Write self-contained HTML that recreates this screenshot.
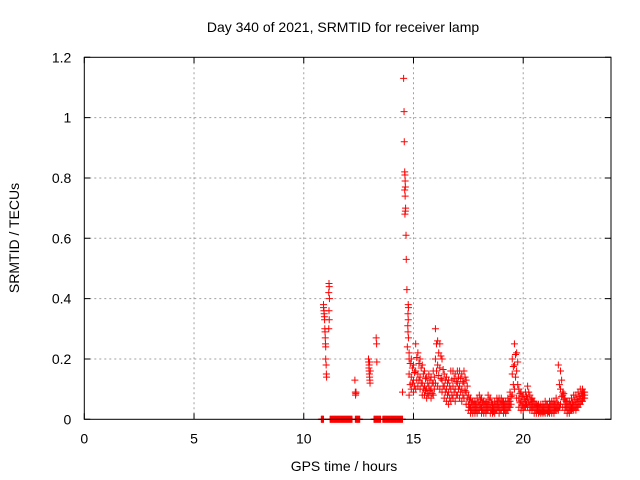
<!DOCTYPE html>
<html><head><meta charset="utf-8"><style>
body{margin:0;background:#fff;}
svg{display:block;font-family:"Liberation Sans",sans-serif;}
</style></head><body>
<svg id="chart" width="640" height="480">
<rect width="640" height="480" fill="#fff"/>
<text x="343" y="32" text-anchor="middle" font-size="14" fill="#000">Day 340 of 2021, SRMTID for receiver lamp</text>
<text x="344" y="471" text-anchor="middle" font-size="14">GPS time / hours</text>
<text transform="translate(19,238) rotate(-90)" text-anchor="middle" font-size="14">SRMTID / TECUs</text>
<g id="grid"></g><g id="ticks"></g><g id="marks"></g>
<rect x="84.3" y="57.3" width="526.7" height="362" fill="none" stroke="#000" stroke-width="1"/>
</svg>
<script>
const xTicks=[0,5,10,15,20];
const yTicks=[0,0.2,0.4,0.6,0.8,1,1.2];
const yTickLabels=["0","0.2","0.4","0.6","0.8","1","1.2"];
// isolated clusters
const clusterTimes=[10.9,10.92,10.93,10.95,10.9,10.94,10.96,10.97,10.98,10.99,11.0,11.0,11.02,11.03,11.04,11.15,11.16,11.14,11.17,11.15,11.16,11.14,
12.33,12.35,12.36,12.37,12.38,12.95,12.96,12.97,12.98,12.99,13.0,13.01,13.02,13.03,12.98,13.0,13.3,13.32,13.33,
14.55,14.57,14.58,14.6,14.61,14.62,14.63,14.6,14.62,14.64,14.63,14.61,14.66,14.67,14.7,14.76,14.77,14.75,14.76,14.74,14.75,14.77,14.72,14.8,14.5];
const clusterValues=[0.37,0.36,0.35,0.33,0.38,0.34,0.30,0.29,0.27,0.25,0.24,0.20,0.18,0.15,0.14,0.45,0.44,0.42,0.40,0.36,0.33,0.30,
0.13,0.09,0.08,0.085,0.09,0.20,0.19,0.17,0.16,0.15,0.14,0.13,0.12,0.16,0.18,0.19,0.27,0.25,0.19,
1.13,1.02,0.92,0.82,0.81,0.79,0.77,0.76,0.74,0.70,0.69,0.68,0.61,0.53,0.43,0.38,0.37,0.35,0.33,0.31,0.29,0.27,0.24,0.20,0.09];
// zero-valued samples
const zeroTimes=[10.8,10.82,10.84,10.86,10.88,10.9,11.2,11.22,11.25,11.28,11.3,11.33,11.35,11.38,11.4,11.43,11.45,11.48,11.5,11.53,11.55,11.58,11.6,11.63,11.65,11.68,11.7,11.73,11.75,11.78,11.8,11.83,11.85,11.88,11.9,11.93,11.95,11.98,12.0,12.03,12.05,12.08,12.1,12.13,12.15,12.18,12.2,12.35,12.38,12.4,12.43,12.45,12.48,12.5,12.53,12.55,
13.2,13.22,13.25,13.28,13.3,13.33,13.35,13.38,13.4,13.43,13.45,13.48,13.5,13.6,13.63,13.65,13.68,13.7,13.73,13.75,13.78,13.8,13.83,13.85,13.88,13.9,13.93,13.95,13.98,14.0,14.03,14.05,14.08,14.1,14.13,14.15,14.18,14.2,14.23,14.25,14.28,14.3,14.33,14.35,14.38,14.4,14.43,14.45,14.48,14.5];
const bandTimes=[14.8,14.9,15.0,15.1,15.2,15.3,15.4,15.5,15.6,15.7,15.8,15.9,16.0,16.1,16.2,16.3,16.4,16.5,16.6,16.7,16.8,16.9,17.0,17.1,17.2,17.3,17.4,17.5,17.6,17.7,17.8,17.9,18.0,18.1,18.2,18.3,18.4,18.5,18.6,18.7,18.8,18.9,19.0,19.1,19.2,19.3,19.4,19.5,19.6,19.7,19.8,19.9,20.0,20.1,20.2,20.3,20.4,20.5,20.6,20.7,20.8,20.9,21.0,21.1,21.2,21.3,21.4,21.5,21.6,21.7,21.8,21.9,22.0,22.1,22.2,22.3,22.4,22.5,22.6,22.7,22.8];
const bandHigh=[.22,.20,.18,.25,.22,.20,.18,.16,.14,.15,.14,.16,.30,.26,.25,.20,.15,.14,.13,.16,.16,.15,.16,.16,.15,.16,.13,.08,.07,.06,.06,.07,.08,.07,.06,.06,.08,.07,.05,.06,.07,.07,.07,.06,.06,.07,.09,.20,.25,.22,.10,.09,.08,.09,.11,.08,.07,.06,.05,.05,.05,.05,.06,.05,.06,.06,.06,.07,.18,.16,.08,.07,.06,.06,.07,.08,.08,.09,.10,.10,.09];
const bandMid=[.15,.14,.13,.16,.15,.14,.12,.11,.10,.11,.10,.12,.20,.18,.17,.13,.11,.10,.09,.10,.11,.10,.12,.11,.10,.12,.09,.05,.04,.04,.04,.04,.05,.04,.04,.04,.05,.04,.03,.04,.05,.04,.05,.04,.04,.05,.06,.15,.18,.16,.07,.06,.05,.06,.07,.05,.05,.04,.04,.03,.03,.03,.04,.03,.04,.04,.04,.04,.05,.10,.09,.05,.04,.04,.04,.05,.05,.06,.07,.08,.08];
const bandLow=[.08,.10,.09,.10,.11,.10,.08,.08,.07,.08,.07,.08,.12,.11,.10,.09,.07,.06,.05,.06,.07,.06,.08,.07,.06,.07,.05,.03,.02,.02,.02,.02,.03,.02,.02,.02,.03,.02,.02,.02,.03,.02,.03,.02,.02,.03,.04,.08,.10,.07,.04,.03,.03,.04,.04,.03,.03,.02,.02,.02,.02,.02,.02,.02,.02,.02,.02,.03,.03,.05,.04,.03,.02,.02,.03,.03,.03,.04,.05,.06,.07];

const X0=84.3,X1=611,Y0=419.3,Y1=57.3,XMAX=24,YMAX=1.2;
const sx=t=>X0+(t/XMAX)*(X1-X0);
const sy=v=>Y0-(v/YMAX)*(Y0-Y1);
const NS="http://www.w3.org/2000/svg";
const grid=document.getElementById('grid'),ticks=document.getElementById('ticks'),marks=document.getElementById('marks');
function mk(tag,at,parent){const e=document.createElementNS(NS,tag);for(const k in at)e.setAttribute(k,at[k]);parent.appendChild(e);return e;}
xTicks.forEach(t=>{
  const x=sx(t);
  if(t>0){const g=mk('line',{x1:x,x2:x,y1:Y0,y2:Y1,stroke:'#a0a0a0','stroke-dasharray':'2,3'},grid);
  
  }
  const tk=mk('path',{d:`M${x},${Y0}v-6M${x},${Y1}v6`,stroke:'#000'},ticks);
  
  
  const l=mk('text',{x:x,y:Y0+24,'text-anchor':'middle','font-size':'14'},ticks);l.textContent=t;
  
  
});
yTicks.forEach((v,i)=>{
  const y=sy(v);
  if(v>0&&v<YMAX){const g=mk('line',{x1:X0,x2:X1,y1:y,y2:y,stroke:'#a0a0a0','stroke-dasharray':'2,3'},grid);
  
  }
  const tk=mk('path',{d:`M${X0},${y}h6M${X1},${y}h-6`,stroke:'#000'},ticks);
  
  
  const l=mk('text',{x:X0-13,y:y+5,'text-anchor':'end','font-size':'14'},ticks);l.textContent=yTickLabels[i];
  
  
});
function plus(t,v){
  const x=sx(t),y=sy(v);
  const p=mk('path',{d:`M${x-3.5},${y}h7M${x},${y-3.5}v7`,stroke:'#f00','stroke-width':'1'},marks);
  
  
}
clusterTimes.forEach((t,i)=>plus(t,clusterValues[i]));
zeroTimes.forEach(t=>plus(t,0));
bandTimes.forEach((t,i)=>{
  [bandHigh,bandMid,bandLow].forEach(arr=>{if(arr[i]!==undefined)plus(t,arr[i]);});
  if(i+1<bandTimes.length){
    const tm=(t+bandTimes[i+1])/2;
    plus(tm,(bandMid[i]+bandLow[i])/2);
    plus(tm,(bandHigh[i]+bandMid[i])/2);
  }
});
</script>
</body></html>
